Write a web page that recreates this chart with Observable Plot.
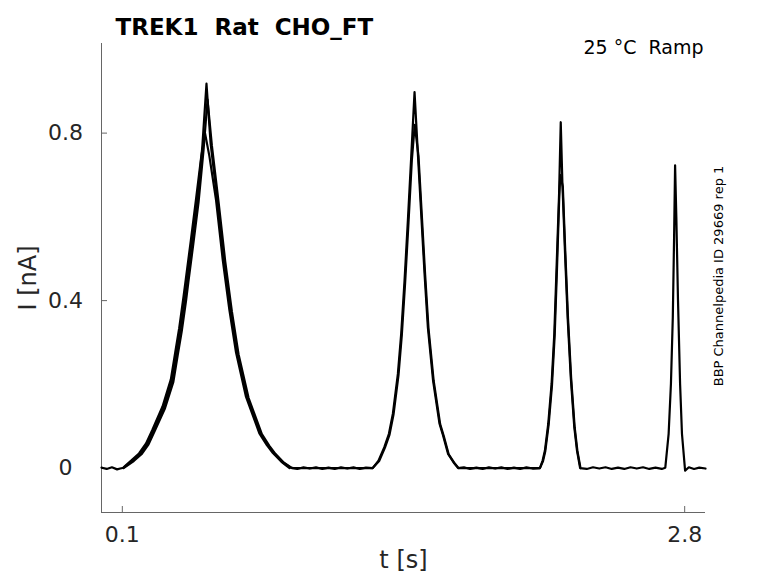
<!DOCTYPE html>
<html><head><meta charset="utf-8">
<script src="https://cdn.jsdelivr.net/npm/d3@7"></script>
<script src="https://cdn.jsdelivr.net/npm/@observablehq/plot@0.6"></script>
<style>
body{margin:0;background:#fff;}
svg text{white-space:pre;}
</style>
</head><body><div id="chart"></div>
<script>
// ---- text ----
const titleText = "TREK1  Rat  CHO_FT";
const conditionText = "25 °C  Ramp";
const sourceText = "BBP Channelpedia ID 29669 rep 1";
const xLabel = "t [s]";
const yLabel = "I [nA]";

// ---- axes ----
const xDomain = [0, 2.9];
const yDomain = [-0.106, 1.014];
const xTicks = [0.1, 2.8];
const yTicks = [0, 0.4, 0.8];

// ---- sweep 1 (full trace) ----
const tSweep1 = [0,0.025,0.05,0.075,0.09,0.106,
  0.15,0.186,0.22,0.250,0.299,0.339,0.360,0.379,0.400,0.411,0.435,0.460,0.484,0.504,0.524,0.556,0.588,0.620,0.652,0.700,0.764,0.80,0.829,0.87,0.909,
  0.94,0.97,1.0,1.03,1.06,1.09,1.12,1.15,1.18,1.21,1.24,1.27,1.302,
  1.33,1.358,1.38,1.399,1.423,1.439,1.455,1.471,1.487,1.503,1.519,1.535,1.551,1.567,1.592,1.623,1.64,1.664,1.69,1.712,
  1.74,1.77,1.80,1.83,1.86,1.89,1.92,1.95,1.98,2.01,2.04,2.07,2.105,
  2.118,2.129,2.145,2.161,2.174,2.185,2.197,2.205,2.213,2.225,2.238,2.253,2.270,2.283,2.298,
  2.33,2.36,2.39,2.42,2.45,2.48,2.51,2.54,2.57,2.60,2.63,2.66,2.69,2.707,
  2.723,2.734,2.743,2.749,2.754,2.760,2.768,2.778,2.787,2.802,
  2.82,2.845,2.87,2.9];
const iSweep1 = [0.001,-0.002,0.002,-0.003,-0.001,0.001,
  0.018,0.034,0.058,0.090,0.145,0.209,0.273,0.330,0.405,0.448,0.540,0.639,0.767,0.918,0.775,0.639,0.496,0.376,0.274,0.169,0.082,0.054,0.035,0.014,0.001,
  -0.002,0.002,-0.001,0.002,-0.002,0.001,-0.002,0.002,-0.001,0.002,-0.002,0.001,0.000,
  0.018,0.050,0.082,0.130,0.225,0.321,0.448,0.591,0.743,0.898,0.751,0.607,0.464,0.336,0.209,0.106,0.078,0.034,0.014,0.000,
  0.002,-0.002,0.001,-0.002,0.002,-0.001,0.002,-0.002,0.001,-0.002,0.002,-0.001,0.000,
  0.018,0.042,0.106,0.201,0.321,0.480,0.655,0.826,0.679,0.520,0.360,0.217,0.098,0.042,0.000,
  -0.002,0.002,-0.001,0.002,-0.002,0.001,-0.002,0.002,-0.001,0.002,-0.002,0.001,-0.002,0.001,
  0.082,0.201,0.360,0.544,0.723,0.599,0.400,0.201,0.082,-0.006,
  0.002,-0.002,0.001,-0.001];

// ---- sweep 2 (repeat) ----
const tSweep2 = [0.106,0.155,0.192,0.226,0.256,0.305,0.345,0.366,0.385,0.406,0.417,0.441,0.466,0.490,0.509,0.530,0.562,0.594,0.626,0.658,0.706,0.770,0.806,0.835,0.876,0.915,
  1.302,1.333,1.361,1.383,1.402,1.426,1.442,1.458,1.474,1.490,1.504,1.522,1.538,1.554,1.570,1.595,1.626,1.643,1.667,1.693,1.715,
  2.105,2.120,2.131,2.147,2.163,2.176,2.187,2.198,2.203,2.215,2.227,2.240,2.255,2.272,2.285,2.300];
const iSweep2 = [0.000,0.017,0.033,0.057,0.089,0.143,0.206,0.270,0.326,0.400,0.444,0.536,0.635,0.760,0.880,0.770,0.636,0.494,0.374,0.272,0.168,0.081,0.053,0.034,0.013,0.000,
  0.000,0.017,0.049,0.080,0.128,0.222,0.318,0.444,0.586,0.735,0.820,0.745,0.603,0.461,0.334,0.208,0.105,0.077,0.033,0.013,0.000,
  0.000,0.017,0.041,0.104,0.198,0.318,0.476,0.650,0.700,0.672,0.515,0.357,0.215,0.097,0.041,0.000];

// ---- sweep 3 (repeat, first ramp) ----
const tSweep3 = [0.106,0.145,0.180,0.214,0.244,0.293,0.333,0.354,0.373,0.394,0.405,0.429,0.454,0.478,0.497,0.518,0.550,0.582,0.614,0.646,0.694,0.758,0.794,0.823,0.864,0.903];
const iSweep3 = [0.002,0.019,0.035,0.059,0.091,0.147,0.212,0.276,0.334,0.410,0.452,0.544,0.643,0.740,0.800,0.745,0.640,0.498,0.378,0.276,0.170,0.083,0.055,0.036,0.015,0.000];

const toRows = (ts, is, s) => ts.map((t, k) => ({t, i: is[k], sweep: s}));
const traces = [
  ...toRows(tSweep1, iSweep1, 1),
  ...toRows(tSweep2, iSweep2, 2),
  ...toRows(tSweep3, iSweep3, 3)
];

const axisColor = "#666";
const textColor = "#262626";

const chart = Plot.plot({
  width: 778, height: 583,
  marginLeft: 101, marginRight: 73, marginTop: 43, marginBottom: 71,
  style: {fontFamily: "DejaVu Sans", background: "#fff", color: textColor, overflow: "visible"},
  x: {domain: xDomain},
  y: {domain: yDomain},
  marks: [
    Plot.ruleX(xDomain.slice(0, 1), {stroke: axisColor, strokeWidth: 1}),
    Plot.ruleY(yDomain.slice(0, 1), {stroke: axisColor, strokeWidth: 1}),
    Plot.ruleX(xTicks, {insetTop: 463, stroke: axisColor}),
    Plot.ruleY(yTicks, {insetRight: 598, stroke: axisColor}),
    Plot.axisX(xTicks, {tickSize: 0, tickPadding: 14, fontSize: 22, label: null, tickFormat: d => String(d)}),
    Plot.axisY(yTicks, {tickSize: 0, tickPadding: 36, textAnchor: "middle", fontSize: 22, label: null, tickFormat: d => String(d)}),
    Plot.line(traces, {x: "t", y: "i", z: "sweep", stroke: "#000", strokeWidth: 2.2, strokeLinejoin: "round"}),
    Plot.text([titleText], {text: d => d, frameAnchor: "top-left", textAnchor: "start", dx: 14, dy: -25, fontSize: 23, fontWeight: "bold", fill: "#000"}),
    Plot.text([conditionText], {text: d => d, frameAnchor: "top-right", textAnchor: "end", dx: -2, dy: -3, fontSize: 19, fill: "#000"}),
    Plot.text([sourceText], {text: d => d, frameAnchor: "right", textAnchor: "middle", dx: 13, dy: -2, rotate: -90, fontSize: 13, fill: "#000"}),
    Plot.text([xLabel], {text: d => d, frameAnchor: "bottom", dy: 55, fontSize: 24, fill: textColor}),
    Plot.text([yLabel], {text: d => d, frameAnchor: "left", textAnchor: "middle", dx: -73, rotate: -90, fontSize: 24, fill: textColor})
  ]
});
document.getElementById("chart").appendChild(chart);
</script>
</body></html>
